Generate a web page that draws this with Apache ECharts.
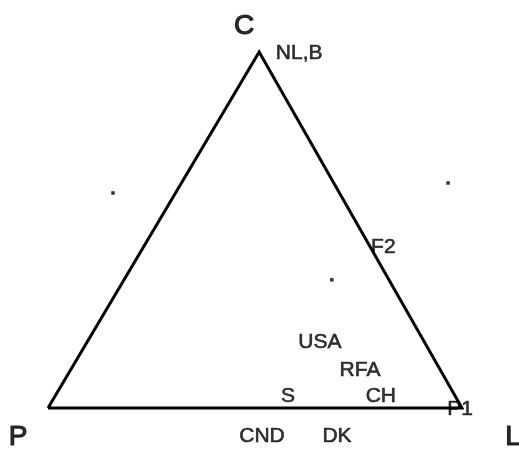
<!DOCTYPE html>
<html><head><meta charset="utf-8">
<script src="https://cdn.jsdelivr.net/npm/echarts@6/dist/echarts.min.js"></script>
<style>html,body{margin:0;padding:0;background:#fff}#c{width:519px;height:449px}</style>
</head><body><div id="c"></div>
<script>
// Ternary data: shares (%) of L and C; P = 100 - L - C
const vertexNames = ['P', 'L', 'C'];
const vertexShareL = [0, 100, 0];
const vertexShareC = [0, 0, 100];

const countries = ['NL,B', 'F2', 'USA', 'RFA', 'S', 'CH', 'P1', 'CND', 'DK'];
const countryShareL = [0, 54.8, 56.3, 69.9, 58.0, 80.4, 100, 51.7, 69.8];
const countryShareC = [100, 45.2, 18.4, 10.7, 0, 0, 0, 0, 0];

// unlabeled small dots
const speckShareL = [-15.1, 64.4, 50.2];
const speckShareC = [60.4, 63.2, 36.0];

// ---- layout / style (not data) ----
const APEX = 0.51;
function toXY(l, c) { return [l / 100 + APEX * c / 100, c / 100]; }
const FONT = '"Liberation Sans", Arial, Helvetica, sans-serif';
const vertexOffset = { P: [-30, 29], L: [51, 29], C: [-15, -26] };
const countryOffset = {
  'NL,B': [40, 1], 'F2': [13, 0], 'USA': [0, 0], 'RFA': [0, 0],
  'S': [0, -12], 'CH': [0, -12], 'P1': [-2, 1], 'CND': [0, 28], 'DK': [0, 28]
};

const vertexPts = vertexNames.map((n, i) => toXY(vertexShareL[i], vertexShareC[i]));
const edgeData = [vertexPts[0], vertexPts[1], vertexPts[2], vertexPts[0]];

const chart = echarts.init(document.getElementById('c'), null, { renderer: 'canvas' });
chart.setOption({
  animation: false,
  backgroundColor: '#fff',
  grid: { left: 48, right: 57, top: 52, bottom: 41 },
  xAxis: { type: 'value', min: 0, max: 1, show: false },
  yAxis: { type: 'value', min: 0, max: 1, show: false },
  series: [
    {
      type: 'line', data: edgeData, symbol: 'none', clip: false,
      lineStyle: { color: '#000', width: 3, join: 'miter' }, z: 1
    },
    {
      type: 'scatter', symbolSize: 0, clip: false,
      data: vertexNames.map((n, i) => ({
        name: n, value: vertexPts[i],
        label: { offset: vertexOffset[n] }
      })),
      label: {
        show: true, position: 'inside', formatter: '{b}',
        color: '#000', fontSize: 28, fontFamily: FONT, fontWeight: 'normal',
        textBorderColor: '#000', textBorderWidth: 1.2
      }
    },
    {
      type: 'scatter', symbolSize: 0, clip: false,
      data: countries.map((n, i) => ({
        name: n, value: toXY(countryShareL[i], countryShareC[i]),
        label: { offset: countryOffset[n] }
      })),
      label: {
        show: true, position: 'inside', formatter: '{b}',
        color: '#000', fontSize: 21, fontFamily: FONT,
        textBorderColor: '#000', textBorderWidth: 0.6
      }
    },
    {
      type: 'scatter', symbol: 'rect', symbolSize: 3.5, clip: false,
      itemStyle: { color: '#000' },
      data: speckShareL.map((l, i) => toXY(l, speckShareC[i]))
    }
  ]
});
</script></body></html>
